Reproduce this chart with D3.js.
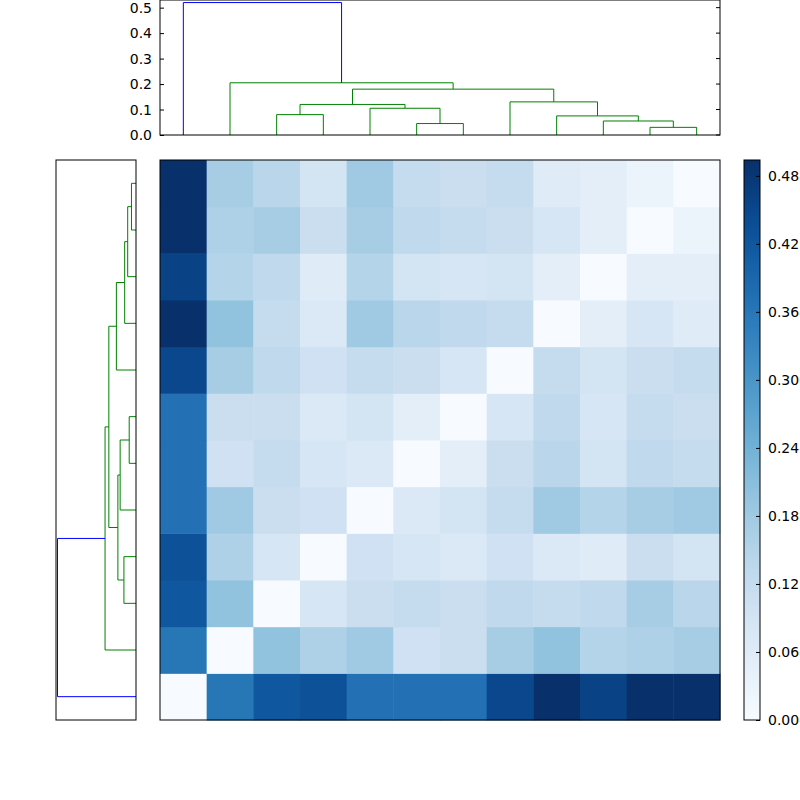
<!DOCTYPE html>
<html><head><meta charset="utf-8">
<script src="https://cdn.jsdelivr.net/npm/d3@7"></script>
<style>body{margin:0;background:#fff}</style>
</head><body>
<script>
// distance matrix, point i vs j (point 0 is the bottom row)
const dist = [
  [0.00,0.36,0.42,0.43,0.37,0.37,0.37,0.45,0.52,0.46,0.52,0.52],
  [0.36,0.00,0.20,0.16,0.18,0.10,0.11,0.17,0.20,0.15,0.16,0.17],
  [0.42,0.20,0.00,0.08,0.11,0.12,0.11,0.13,0.12,0.13,0.17,0.14],
  [0.43,0.16,0.08,0.00,0.10,0.08,0.07,0.10,0.07,0.06,0.11,0.09],
  [0.37,0.18,0.11,0.10,0.00,0.07,0.09,0.12,0.18,0.15,0.17,0.18],
  [0.37,0.10,0.12,0.08,0.07,0.00,0.05,0.11,0.14,0.09,0.13,0.12],
  [0.37,0.11,0.11,0.07,0.09,0.05,0.00,0.08,0.13,0.08,0.12,0.11],
  [0.45,0.17,0.13,0.10,0.12,0.11,0.08,0.00,0.12,0.09,0.11,0.12],
  [0.52,0.20,0.12,0.07,0.18,0.14,0.13,0.12,0.00,0.05,0.08,0.06],
  [0.46,0.15,0.13,0.06,0.15,0.09,0.08,0.09,0.05,0.00,0.05,0.05],
  [0.52,0.16,0.17,0.11,0.17,0.13,0.12,0.11,0.08,0.05,0.00,0.03],
  [0.52,0.17,0.14,0.09,0.18,0.12,0.11,0.12,0.06,0.05,0.03,0.00]
];
// linkage: [left, right, height], new clusters numbered from 12
const linkage = [
  [10,11,0.03],[5,6,0.045],[9,12,0.055],[2,3,0.08],[8,14,0.075],[4,13,0.105],
  [15,17,0.12],[7,16,0.13],[18,19,0.18],[1,20,0.205],[0,21,0.52]
];
const dendroTicks = [0,0.1,0.2,0.3,0.4,0.5];
const cbarTicks = [0,0.06,0.12,0.18,0.24,0.30,0.36,0.42,0.48];

const n = dist.length;
const svg = d3.select("body").append("svg").attr("width",800).attr("height",800)
  .style("font-family","DejaVu Sans").style("font-size","14px");

const hm = {x:160,y:160,w:560,h:560};
const xs = d3.scaleBand().domain(d3.range(n)).range([hm.x,hm.x+hm.w]);
const ys = d3.scaleBand().domain(d3.range(n)).range([hm.y+hm.h,hm.y]);
const vmax = 0.494;
const color = d3.scaleSequential(d3.interpolateBlues).domain([0,vmax]).clamp(true);

const cells = [];
dist.forEach((row,i)=>row.forEach((v,j)=>cells.push({i,j,v})));
svg.append("g").selectAll("rect").data(cells).join("rect")
  .attr("x",d=>xs(d.j)).attr("y",d=>ys(d.i))
  .attr("width",xs.bandwidth()+0.5).attr("height",ys.bandwidth()+0.5)
  .attr("fill",d=>color(d.v));
svg.append("rect").attr("x",hm.x).attr("y",hm.y).attr("width",hm.w).attr("height",hm.h)
  .attr("fill","none").attr("stroke","#000");

// node positions
const pos = d3.range(n).map(i=>({c:i,h:0}));
linkage.forEach(([a,b,h])=>pos.push({c:(pos[a].c+pos[b].c)/2,h}));

// top dendrogram
const topBox = {x:160,y:0,w:560,h:135};
const tcx = c=>xs(0) + (c+0.5)*xs.step();
const th = d3.scaleLinear().domain([0,0.53]).range([topBox.y+topBox.h,topBox.y]);
const gTop = svg.append("g");
linkage.forEach(([a,b,h],k)=>{
  const col = k===linkage.length-1 ? "#0000ff" : "#008000";
  const pa=pos[a], pb=pos[b];
  gTop.append("path").attr("fill","none").attr("stroke",col)
    .attr("d",`M${tcx(pa.c)},${th(pa.h)}V${th(h)}H${tcx(pb.c)}V${th(pb.h)}`);
});
gTop.append("rect").attr("x",topBox.x).attr("y",topBox.y).attr("width",topBox.w).attr("height",topBox.h)
  .attr("fill","none").attr("stroke","#000");
const ax = svg.append("g").attr("transform",`translate(${topBox.x},0)`)
  .call(d3.axisLeft(th).tickValues(dendroTicks).tickFormat(d3.format(".1f")).tickSizeInner(-4).tickSizeOuter(0).tickPadding(8));
ax.select(".domain").remove();
ax.selectAll("text").attr("fill","#000").style("font-size","14px").style("font-family","DejaVu Sans");
dendroTicks.forEach(t=>svg.append("line").attr("x1",topBox.x+topBox.w).attr("x2",topBox.x+topBox.w-4)
  .attr("y1",th(t)).attr("y2",th(t)).attr("stroke","#000"));

// left dendrogram
const leftBox = {x:56,y:160,w:80,h:560};
const lcy = c=>hm.y+hm.h-(c+0.5)*ys.step();
const lh = d3.scaleLinear().domain([0,0.53]).range([leftBox.x+leftBox.w,leftBox.x]);
linkage.forEach(([a,b,h],k)=>{
  const col = k===linkage.length-1 ? "#0000ff" : "#008000";
  const pa=pos[a], pb=pos[b];
  svg.append("path").attr("fill","none").attr("stroke",col)
    .attr("d",`M${lh(pa.h)},${lcy(pa.c)}H${lh(h)}V${lcy(pb.c)}H${lh(pb.h)}`);
});
svg.append("rect").attr("x",leftBox.x).attr("y",leftBox.y).attr("width",leftBox.w).attr("height",leftBox.h)
  .attr("fill","none").attr("stroke","#000");

// colorbar
const cb = {x:744,y:160,w:16,h:560};
const cy = d3.scaleLinear().domain([0,vmax]).range([cb.y+cb.h,cb.y]);
const grad = svg.append("defs").append("linearGradient").attr("id","cbg")
  .attr("x1",0).attr("y1",1).attr("x2",0).attr("y2",0);
d3.range(0,1.0001,0.05).forEach(t=>grad.append("stop").attr("offset",t).attr("stop-color",color(t*vmax)));
svg.append("rect").attr("x",cb.x).attr("y",cb.y).attr("width",cb.w).attr("height",cb.h)
  .attr("fill","url(#cbg)").attr("stroke","#000");
const cax = svg.append("g").attr("transform",`translate(${cb.x+cb.w},0)`)
  .call(d3.axisRight(cy).tickValues(cbarTicks).tickFormat(d3.format(".2f")).tickSizeInner(-4).tickSizeOuter(0).tickPadding(8));
cax.select(".domain").remove();
cax.selectAll("text").attr("fill","#000").style("font-size","14px").style("font-family","DejaVu Sans");
</script>
</body></html>
